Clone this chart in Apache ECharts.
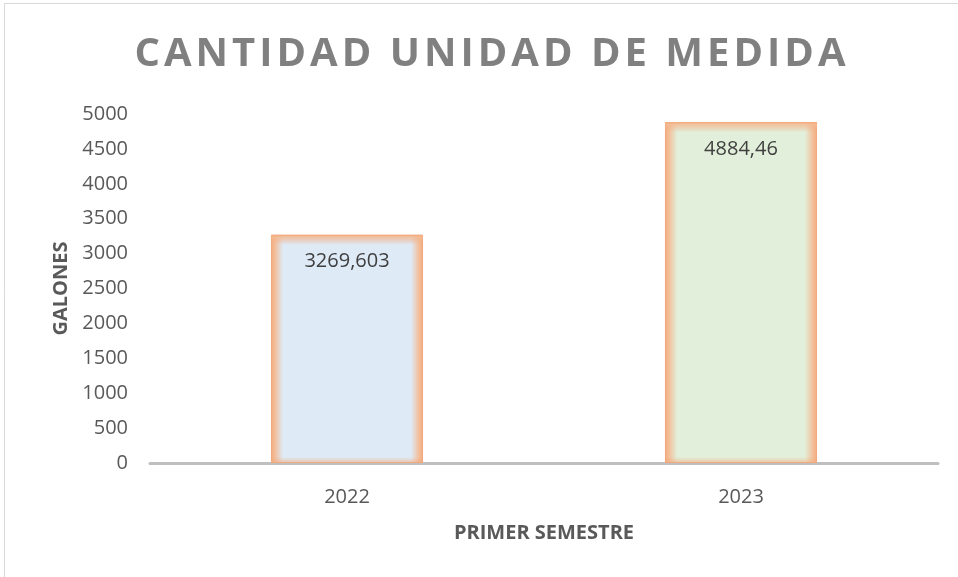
<!DOCTYPE html>
<html><head><meta charset="utf-8">
<script src="https://cdn.jsdelivr.net/npm/echarts@6/dist/echarts.min.js"></script>
<style>html,body{margin:0;padding:0;background:#fff}#c{width:958px;height:577px}</style>
</head><body><div id="c"></div>
<script>
const categories = ['2022', '2023'];
const values = [3269.603, 4884.46];
const valueLabels = ['3269,603', '4884,46'];
const barColors = ['#DEEAF6', '#E2EFDA'];
const yTicks = [0, 500, 1000, 1500, 2000, 2500, 3000, 3500, 4000, 4500, 5000];

// wide letter spacing for the title (canvas letterSpacing)
(function(){
  const P = CanvasRenderingContext2D.prototype;
  const orig = P.fillText;
  P.fillText = function(t, x, y, m) {
    if ('letterSpacing' in this) this.letterSpacing = (this.font.indexOf('40px') >= 0) ? '4px' : '0px';
    return m === undefined ? orig.call(this, t, x, y) : orig.call(this, t, x, y, m);
  };
})();

const glow = 'rgba(242,170,125,1)';
const glowT = 'rgba(242,170,125,0)';
function hGrad(c) {
  return new echarts.graphic.LinearGradient(0, 0, 1, 0, [
    {offset: 0, color: glow}, {offset: 0.02, color: 'rgba(244,185,145,1)'}, {offset: 0.08, color: c},
    {offset: 0.92, color: c}, {offset: 0.98, color: 'rgba(244,185,145,1)'}, {offset: 1, color: glow}]);
}
function vGrad(v) {
  const g = 10 / (v * 349 / 5000);
  return new echarts.graphic.LinearGradient(0, 0, 0, 1, [
    {offset: 0, color: glow}, {offset: g * 0.25, color: 'rgba(244,185,145,0.8)'}, {offset: g, color: glowT},
    {offset: 1 - g * 0.6, color: glowT}, {offset: 1, color: 'rgba(242,170,125,0.6)'}]);
}

const font = 'Open Sans';
const chart = echarts.init(document.getElementById('c'), null, {renderer: 'canvas'});
chart.setOption({
  backgroundColor: '#fff',
  animation: false,
  graphic: [{
    type: 'rect', shape: {x: 4.5, y: 3.5, width: 1000, height: 1000},
    style: {fill: 'none', stroke: '#D9D9D9', lineWidth: 1}, silent: true
  }, {
    type: 'text', x: 492, y: 55,
    style: {text: 'CANTIDAD UNIDAD DE MEDIDA', align: 'center', verticalAlign: 'middle',
      font: 'bold 40px "Open Sans"', fill: '#808080'}
  }],
  grid: {left: 150, right: 20, top: 114, bottom: 114},
  xAxis: {
    type: 'category', data: categories,
    name: 'PRIMER SEMESTRE', nameLocation: 'middle', nameGap: 60,
    nameTextStyle: {fontFamily: font, fontWeight: 'bold', fontSize: 20, color: '#595959'},
    axisLine: {lineStyle: {color: '#BFBFBF', width: 3}},
    axisTick: {show: false},
    axisLabel: {fontFamily: font, fontSize: 20, color: '#595959', margin: 24}
  },
  yAxis: {
    type: 'value', min: yTicks[0], max: yTicks[yTicks.length - 1], interval: 500,
    name: 'GALONES', nameLocation: 'middle', nameGap: 78, nameRotate: 90,
    nameTextStyle: {fontFamily: font, fontWeight: 'bold', fontSize: 20, color: '#595959'},
    axisLine: {show: false}, axisTick: {show: false}, splitLine: {show: false},
    axisLabel: {fontFamily: font, fontSize: 20, color: '#595959', margin: 22,
      formatter: v => String(v)}
  },
  series: [{
    type: 'bar', barWidth: '38.6%', barGap: '-100%', z: 2,
    data: values.map((v, i) => ({value: v, itemStyle: {color: hGrad(barColors[i])}})),
    itemStyle: {borderColor: '#F0A87E', borderWidth: 1}
  }, {
    type: 'bar', barWidth: '38.6%', barGap: '-100%', z: 3,
    data: values.map((v, i) => ({value: v, itemStyle: {color: vGrad(v)}})),
    label: {
      show: true, position: 'insideTop', distance: 17,
      formatter: p => valueLabels[p.dataIndex],
      fontFamily: font, fontSize: 20, color: '#404040'
    }
  }]
});
</script></body></html>
